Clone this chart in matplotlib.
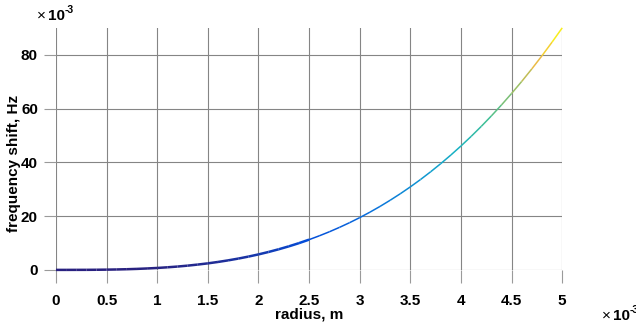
import numpy as np
import matplotlib
matplotlib.use("Agg")
import matplotlib.pyplot as plt
from matplotlib.collections import LineCollection
from matplotlib.colors import LinearSegmentedColormap

plt.rcParams['font.family'] = ['Liberation Sans', 'DejaVu Sans']

# radius (x1e-3 m) and frequency shift (x1e-3 Hz)
radius = [0.0, 0.1, 0.2, 0.3, 0.4, 0.5, 0.6, 0.7, 0.8, 0.9,
          1.0, 1.1, 1.2, 1.3, 1.4, 1.5, 1.6, 1.7, 1.8, 1.9,
          2.0, 2.1, 2.2, 2.3, 2.4, 2.5, 2.6, 2.7, 2.8, 2.9,
          3.0, 3.1, 3.2, 3.3, 3.4, 3.5, 3.6, 3.7, 3.8, 3.9,
          4.0, 4.1, 4.2, 4.3, 4.4, 4.5, 4.6, 4.7, 4.8, 4.9, 5.0]
shift = [0.0, 0.0, 0.01, 0.02, 0.05, 0.09, 0.16, 0.25, 0.37, 0.53,
         0.72, 0.96, 1.24, 1.58, 1.98, 2.43, 2.95, 3.54, 4.20, 4.94,
         5.76, 6.67, 7.67, 8.76, 9.95, 11.25, 12.66, 14.17, 15.81, 17.56,
         19.44, 21.45, 23.59, 25.88, 28.30, 30.87, 33.59, 36.47, 39.51, 42.71,
         46.08, 49.62, 53.34, 57.25, 61.33, 65.61, 70.08, 74.75, 79.63, 84.71, 90.0]

xticks = [0, 0.5, 1, 1.5, 2, 2.5, 3, 3.5, 4, 4.5, 5]
xticklabels = ['0', '0.5', '1', '1.5', '2', '2.5', '3', '3.5', '4', '4.5', '5']
yticks = [0, 20, 40, 60, 80]

# rough parula colormap
parula = LinearSegmentedColormap.from_list('parula', [
    (0.00, (0.160, 0.130, 0.500)),
    (0.12, (0.013, 0.303, 0.852)),
    (0.25, (0.040, 0.450, 0.860)),
    (0.38, (0.060, 0.590, 0.820)),
    (0.50, (0.090, 0.700, 0.760)),
    (0.62, (0.250, 0.750, 0.580)),
    (0.75, (0.600, 0.750, 0.400)),
    (0.87, (0.950, 0.730, 0.260)),
    (1.00, (0.976, 0.983, 0.081)),
])

W, H = 636, 324
fig = plt.figure(figsize=(W / 100, H / 100), dpi=100)
ax = fig.add_axes([0.088, 0.167, 0.796, 0.747])

x = np.array(radius)
y = np.array(shift)
pts = np.column_stack([x, y]).reshape(-1, 1, 2)
segs = np.concatenate([pts[:-1], pts[1:]], axis=1)
# thicker near the bottom, thinner at the top like the reference
widths = [1.8 if v < 10 else 1.1 for v in y[:-1]]
lc = LineCollection(segs, cmap=parula, linewidths=widths, zorder=3,
                    clip_on=False, capstyle='butt', joinstyle='round')
lc.set_snap(False)
lc.set_array((y[:-1] + y[1:]) / 2)
lc.set_clim(0, 90)
ax.add_collection(lc)

ax.set_xlim(0, 5)
ax.set_ylim(0, 90)
ax.set_xticks(xticks)
ax.set_xticklabels(xticklabels)
ax.set_yticks(yticks)
for s in ax.spines.values():
    s.set_visible(False)
ax.grid(True, color='#858585', linewidth=0.8)
ax.tick_params(length=9, color='#9a9a9a', width=0.8, labelsize=11)
ax.tick_params(axis='x', pad=8)
ax.tick_params(axis='y', pad=4)
for lab in ax.get_xticklabels() + ax.get_yticklabels():
    lab.set_fontweight('bold')

ax.set_xlabel('radius, m', fontsize=11, fontweight='bold', labelpad=0)
ax.set_ylabel('frequency shift, Hz', fontsize=11, fontweight='bold')
ax.yaxis.set_label_coords(-0.069, 0.44)


# exponent markers "×10^-3" (pixel positions from the reference)
def exponent(px, baseline):
    fig.text(px / W, 1 - baseline / H, '×', fontsize=11, va='baseline')
    fig.text((px + 11) / W, 1 - baseline / H, '10', fontsize=11,
             fontweight='bold', va='baseline')
    fig.text((px + 28) / W, 1 - (baseline - 7) / H, '-3', fontsize=7.5,
             fontweight='bold', va='baseline')


exponent(37, 20)
exponent(602, 320)

fig.savefig('out.png', dpi=100)
